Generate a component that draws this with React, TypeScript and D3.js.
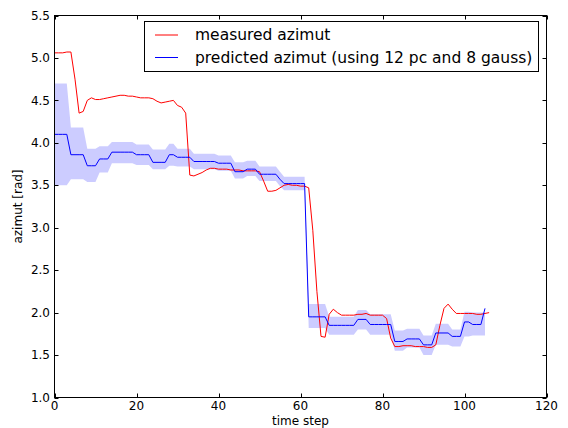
import React from "react";
import * as d3 from "d3";

// measured azimut, time steps 0..106
const measured: number[] = [
  5.06, 5.06, 5.06, 5.07, 5.07, 4.75, 4.35, 4.37, 4.5, 4.53,
  4.51, 4.51, 4.52, 4.53, 4.54, 4.55, 4.56, 4.56, 4.55, 4.55,
  4.54, 4.53, 4.53, 4.53, 4.52, 4.49, 4.47, 4.48, 4.49, 4.5,
  4.44, 4.42, 4.35, 3.62, 3.61, 3.63, 3.65, 3.68, 3.7, 3.7,
  3.69, 3.69, 3.69, 3.68, 3.68, 3.68, 3.67, 3.67, 3.67, 3.67,
  3.66, 3.55, 3.43, 3.43, 3.44, 3.47, 3.5, 3.51, 3.5, 3.5,
  3.49, 3.49, 3.47, 2.97, 2.25, 1.72, 1.71, 1.98, 2.04, 2.0,
  1.97, 1.97, 1.97, 1.97, 1.98, 1.98, 1.99, 1.97, 1.97, 1.97,
  1.97, 1.93, 1.7, 1.6, 1.6, 1.61, 1.61, 1.61, 1.6, 1.6,
  1.6, 1.59, 1.59, 1.62, 1.85, 2.05, 2.1, 2.04, 1.99, 1.99,
  1.99, 1.99, 1.99, 1.98, 1.98, 1.99, 2.0,
];

// predicted azimut, time steps 0..105
const predicted: number[] = [
  4.1, 4.1, 4.1, 4.1, 3.86, 3.86, 3.86, 3.86, 3.73, 3.73,
  3.73, 3.81, 3.81, 3.81, 3.89, 3.89, 3.89, 3.89, 3.89, 3.89,
  3.86, 3.86, 3.86, 3.86, 3.77, 3.77, 3.77, 3.77, 3.86, 3.86,
  3.83, 3.83, 3.83, 3.83, 3.78, 3.78, 3.78, 3.78, 3.78, 3.78,
  3.76, 3.76, 3.76, 3.76, 3.66, 3.66, 3.66, 3.69, 3.69, 3.69,
  3.63, 3.63, 3.63, 3.63, 3.63, 3.57, 3.52, 3.52, 3.52, 3.52,
  3.52, 3.52, 1.95, 1.95, 1.95, 1.95, 1.95, 1.85, 1.85, 1.85,
  1.85, 1.85, 1.85, 1.85, 1.92, 1.92, 1.92, 1.86, 1.86, 1.86,
  1.86, 1.86, 1.86, 1.66, 1.66, 1.66, 1.69, 1.69, 1.69, 1.69,
  1.62, 1.62, 1.62, 1.76, 1.76, 1.76, 1.76, 1.72, 1.72, 1.72,
  1.89, 1.89, 1.86, 1.86, 1.86, 2.05,
];

// uncertainty band (lower / upper), time steps 0..105
const bandLow: number[] = [
  3.5, 3.5, 3.5, 3.5, 3.57, 3.57, 3.57, 3.57, 3.54, 3.54,
  3.54, 3.65, 3.65, 3.65, 3.76, 3.76, 3.76, 3.76, 3.76, 3.76,
  3.74, 3.74, 3.74, 3.74, 3.69, 3.69, 3.69, 3.69, 3.73, 3.73,
  3.72, 3.72, 3.72, 3.72, 3.69, 3.69, 3.69, 3.69, 3.69, 3.69,
  3.67, 3.67, 3.67, 3.67, 3.58, 3.58, 3.58, 3.61, 3.61, 3.61,
  3.55, 3.55, 3.55, 3.55, 3.55, 3.49, 3.44, 3.44, 3.44, 3.44,
  3.44, 3.44, 1.82, 1.82, 1.82, 1.82, 1.82, 1.74, 1.74, 1.74,
  1.74, 1.74, 1.74, 1.74, 1.8, 1.8, 1.8, 1.74, 1.74, 1.74,
  1.74, 1.74, 1.74, 1.55, 1.55, 1.55, 1.59, 1.59, 1.59, 1.59,
  1.5, 1.5, 1.5, 1.62, 1.62, 1.62, 1.62, 1.6, 1.6, 1.6,
  1.72, 1.72, 1.73, 1.73, 1.73, 1.73,
];
const bandHigh: number[] = [
  4.7, 4.7, 4.7, 4.7, 4.18, 4.18, 4.18, 4.18, 3.93, 3.93,
  3.93, 3.96, 3.96, 3.96, 4.01, 4.01, 4.01, 4.01, 4.01, 4.01,
  3.98, 3.98, 3.98, 3.98, 3.92, 3.92, 3.92, 3.92, 3.99, 3.99,
  3.93, 3.93, 3.93, 3.93, 3.87, 3.87, 3.87, 3.87, 3.87, 3.87,
  3.85, 3.85, 3.85, 3.85, 3.77, 3.77, 3.77, 3.79, 3.79, 3.79,
  3.72, 3.72, 3.72, 3.72, 3.72, 3.66, 3.6, 3.6, 3.6, 3.6,
  3.6, 3.6, 2.1, 2.1, 2.1, 2.1, 2.1, 1.95, 1.95, 1.95,
  1.95, 1.95, 1.95, 1.95, 2.03, 2.03, 2.03, 1.98, 1.98, 1.98,
  1.98, 1.98, 1.98, 1.79, 1.79, 1.79, 1.81, 1.81, 1.81, 1.81,
  1.73, 1.73, 1.73, 1.87, 1.87, 1.87, 1.87, 1.8, 1.8, 1.8,
  2.01, 2.01, 2.0, 2.0, 2.0, 2.0,
];

const xTicks: number[] = [0, 20, 40, 60, 80, 100, 120];
const yTicks: number[] = [1.0, 1.5, 2.0, 2.5, 3.0, 3.5, 4.0, 4.5, 5.0, 5.5];
const legendLabels: string[] = [
  "measured azimut",
  "predicted azimut (using 12 pc and 8 gauss)",
];
const xLabel = "time step";
const yLabel = "azimut [rad]";

const W = 568;
const H = 428;
const L = 54.5;
const R = 546.5;
const T = 15.5;
const B = 397.5;
const FONT = "'DejaVu Sans', sans-serif";

export default function App() {
  const x = d3.scaleLinear().domain([0, 120]).range([L, R]);
  const y = d3.scaleLinear().domain([1.0, 5.5]).range([B, T]);

  const line = d3
    .line<number>()
    .x((_, i) => x(i))
    .y((d) => y(d));
  const area = d3
    .area<number>()
    .x((_, i) => x(i))
    .y0((_, i) => y(bandLow[i]))
    .y1((_, i) => y(bandHigh[i]));

  const tickLen = 4;

  return (
    <svg
      width={W}
      height={H}
      style={{ position: "absolute", left: 0, top: 0, background: "#fff" }}
      fontFamily={FONT}
    >
      <defs>
        <clipPath id="plotclip">
          <rect x={L} y={T} width={R - L} height={B - T} />
        </clipPath>
      </defs>
      <rect x={0} y={0} width={W} height={H} fill="#fff" />
      <g clipPath="url(#plotclip)">
        <path d={area(bandHigh) || ""} fill="#0000ff" fillOpacity={0.2} stroke="none" />
        <path d={line(measured) || ""} fill="none" stroke="#ff0000" strokeWidth={1} />
        <path d={line(predicted) || ""} fill="none" stroke="#0000ff" strokeWidth={1} />
      </g>

      {/* frame */}
      <rect x={L} y={T} width={R - L} height={B - T} fill="none" stroke="#000" strokeWidth={1} />

      {/* x ticks */}
      {xTicks.map((t) => (
        <g key={"x" + t}>
          <line x1={Math.round(x(t)) + 0.5} x2={Math.round(x(t)) + 0.5} y1={B} y2={B - tickLen} stroke="#000" />
          <line x1={Math.round(x(t)) + 0.5} x2={Math.round(x(t)) + 0.5} y1={T} y2={T + tickLen} stroke="#000" />
          <text x={x(t)} y={410} fontSize={12} textAnchor="middle" fill="#000">
            {t}
          </text>
        </g>
      ))}
      {/* y ticks */}
      {yTicks.map((t) => (
        <g key={"y" + t}>
          <line x1={L} x2={L + tickLen} y1={Math.round(y(t)) + 0.5} y2={Math.round(y(t)) + 0.5} stroke="#000" />
          <line x1={R} x2={R - tickLen} y1={Math.round(y(t)) + 0.5} y2={Math.round(y(t)) + 0.5} stroke="#000" />
          <text x={50} y={y(t)} dy="0.35em" fontSize={12} textAnchor="end" fill="#000">
            {t.toFixed(1)}
          </text>
        </g>
      ))}

      <text x={(L + R) / 2} y={425} fontSize={12} textAnchor="middle" fill="#000">
        {xLabel}
      </text>
      <text
        transform={`translate(22,${(T + B) / 2}) rotate(-90)`}
        fontSize={12}
        textAnchor="middle"
        fill="#000"
      >
        {yLabel}
      </text>

      {/* legend */}
      <g>
        <rect x={144.5} y={21.5} width={394} height={50} fill="#fff" stroke="#000" strokeWidth={1} />
        {legendLabels.map((lab, i) => (
          <g key={lab}>
            <line
              x1={155}
              x2={178}
              y1={35 + i * 22.5}
              y2={35 + i * 22.5}
              stroke={i === 0 ? "#ff0000" : "#0000ff"}
              strokeWidth={1}
            />
            <text x={195} y={35 + i * 22.5} dy="0.35em" fontSize={15.5} fill="#000">
              {lab}
            </text>
          </g>
        ))}
      </g>
    </svg>
  );
}
